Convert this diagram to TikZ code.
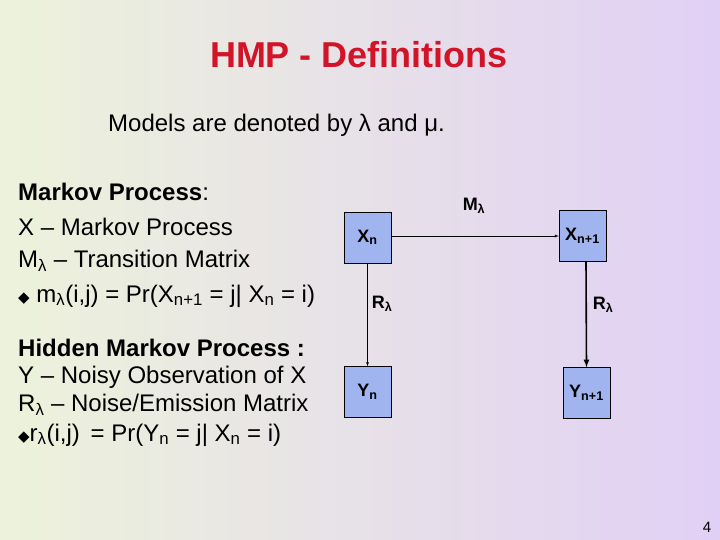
\documentclass[tikz,border=0pt]{standalone}
\usepackage{fontspec}
\setmainfont{Liberation Sans}
\newfontfamily\sym{DejaVu Sans}
\begin{document}
\begin{tikzpicture}[x=1pt,y=-1pt,
  box/.style={draw=black,fill={rgb,255:red,160;green,180;blue,240},minimum width=47pt,minimum height=51pt,inner sep=0pt,font=\bfseries\fontsize{18}{20}\selectfont},
  lab/.style={font=\bfseries\fontsize{18}{20}\selectfont,inner sep=0pt},
  txt/.style={anchor=west,inner sep=0pt,font=\fontsize{24}{28}\selectfont}]
\useasboundingbox (0,0) rectangle (720,540);
\shade[shading=axis,shading angle=-55,left color={rgb,255:red,240;green,252;blue,212},right color={rgb,255:red,222;green,198;blue,252}] (-200,-200) rectangle (920,740);
\node[inner sep=0pt,font=\bfseries\fontsize{36}{40}\selectfont,text={rgb,255:red,210;green,20;blue,40}] (title) at (359,55) {HMP - Definitions};
\node[txt] (intro) at (108,125) {Models are denoted by λ and μ.};
\node[txt] (t1) at (18,192) {\textbf{Markov Process}:};
\node[txt] (t2) at (18,227) {X – Markov Process};
\node[txt] (t3) at (18,261) {M\textsubscript{λ} – Transition Matrix};
\node[txt] (t4) at (18,296) {{\sym\fontsize{15}{17}\selectfont ◆} m\textsubscript{λ}(i,j) = Pr(X\textsubscript{n+1} = j| X\textsubscript{n} = i)};
\node[txt] (t5) at (18,348) {\textbf{Hidden Markov Process :}};
\node[txt] (t6) at (18,377) {Y – Noisy Observation of X};
\node[txt] (t7) at (18,405) {R\textsubscript{λ} – Noise/Emission Matrix};
\node[txt] (t8) at (18,435) {{\sym\fontsize{15}{17}\selectfont ◆}r\textsubscript{λ}(i,j) \,= Pr(Y\textsubscript{n} = j| X\textsubscript{n} = i)};
\node[box] (xn) at (367.5,237.5) {X\textsubscript{n}};
\node[box] (xn1) at (582.5,236) {X\textsubscript{n+1}};
\node[box] (yn) at (367.5,392) {Y\textsubscript{n}};
\node[box] (yn1) at (586.5,393) {Y\textsubscript{n+1}};
\draw[-latex] (xn.east |- 0,236) -- (xn1.west |- 0,236);
\draw[-latex] (xn.south) -- (yn.north);
\draw[-latex,line width=1.6pt] (xn1.south -| 586,0) -- (yn1.north);
\node[lab] (m) at (474,206) {M\textsubscript{λ}};
\node[lab] (r1) at (382,304) {R\textsubscript{λ}};
\node[lab] (r2) at (603,305) {R\textsubscript{λ}};
\node[inner sep=0pt,font=\fontsize{15}{17}\selectfont] (pg) at (707,527) {4};
\end{tikzpicture}
\end{document}
